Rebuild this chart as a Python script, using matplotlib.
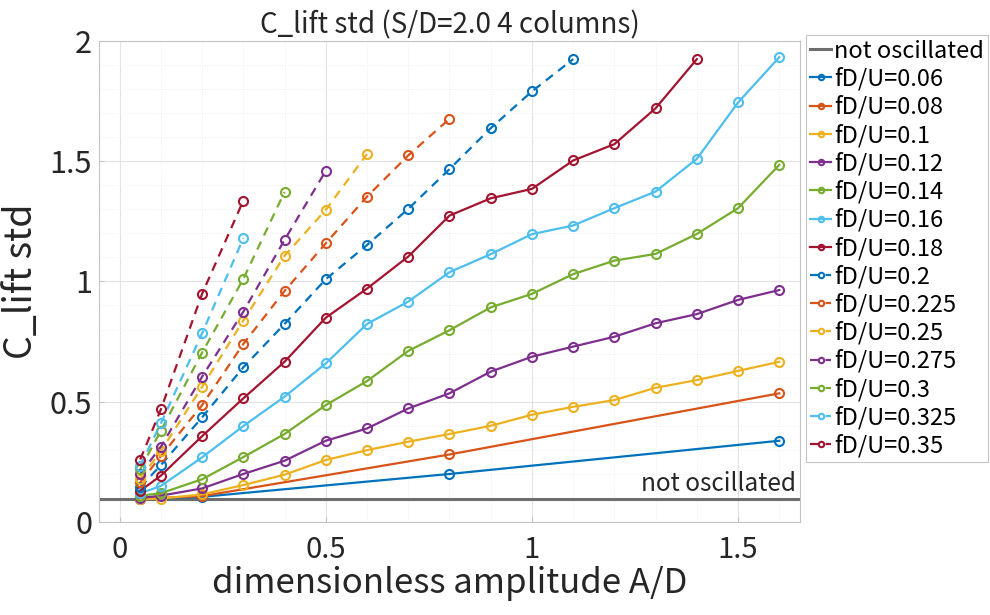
import numpy as np
import matplotlib
matplotlib.use("Agg")
import matplotlib.pyplot as plt
from matplotlib.ticker import MultipleLocator

plt.rcParams['font.family'] = ['Noto Sans CJK JP', 'DejaVu Sans']

# threshold for "not oscillated"
not_osc = 0.095

# amplitudes A/D and C_lift std per frequency fD/U
freqs = ["0.06", "0.08", "0.1", "0.12", "0.14", "0.16", "0.18",
         "0.2", "0.225", "0.25", "0.275", "0.3", "0.325", "0.35"]

x_f006 = [0.05, 0.2, 0.8, 1.6]
y_f006 = [0.095, 0.105, 0.20, 0.338]

x_f008 = [0.05, 0.2, 0.8, 1.6]
y_f008 = [0.097, 0.108, 0.281, 0.535]

x_f010 = [0.05, 0.1, 0.2, 0.3, 0.4, 0.5, 0.6, 0.7, 0.8, 0.9, 1.0, 1.1, 1.2, 1.3, 1.4, 1.5, 1.6]
y_f010 = [0.095, 0.098, 0.115, 0.154, 0.197, 0.258, 0.299, 0.334, 0.366, 0.400,
          0.446, 0.479, 0.507, 0.558, 0.590, 0.628, 0.666]

x_f012 = x_f010
y_f012 = [0.10, 0.11, 0.14, 0.20, 0.255, 0.338, 0.389, 0.472, 0.535, 0.625,
          0.687, 0.729, 0.770, 0.826, 0.864, 0.923, 0.964]

x_f014 = x_f010
y_f014 = [0.11, 0.12, 0.178, 0.27, 0.366, 0.486, 0.586, 0.711, 0.797, 0.892,
          0.948, 1.03, 1.086, 1.114, 1.197, 1.304, 1.484]

x_f016 = x_f010
y_f016 = [0.12, 0.15, 0.269, 0.399, 0.521, 0.659, 0.823, 0.916, 1.038, 1.113,
          1.196, 1.232, 1.304, 1.373, 1.509, 1.743, 1.931]

x_f018 = [0.05, 0.1, 0.2, 0.3, 0.4, 0.5, 0.6, 0.7, 0.8, 0.9, 1.0, 1.1, 1.2, 1.3, 1.4]
y_f018 = [0.13, 0.193, 0.357, 0.514, 0.666, 0.849, 0.970, 1.103, 1.273, 1.345,
          1.384, 1.502, 1.570, 1.719, 1.923]

x_f020 = [0.05, 0.1, 0.2, 0.3, 0.4, 0.5, 0.6, 0.7, 0.8, 0.9, 1.0, 1.1]
y_f020 = [0.145, 0.237, 0.435, 0.643, 0.823, 1.009, 1.151, 1.301, 1.466, 1.636, 1.789, 1.923]

x_f0225 = [0.05, 0.1, 0.2, 0.3, 0.4, 0.5, 0.6, 0.7, 0.8]
y_f0225 = [0.165, 0.274, 0.486, 0.740, 0.96, 1.158, 1.352, 1.523, 1.675]

x_f025 = [0.05, 0.1, 0.2, 0.3, 0.4, 0.5, 0.6]
y_f025 = [0.18, 0.295, 0.562, 0.837, 1.106, 1.297, 1.529]

x_f0275 = [0.05, 0.1, 0.2, 0.3, 0.4, 0.5]
y_f0275 = [0.20, 0.313, 0.604, 0.874, 1.172, 1.459]

x_f030 = [0.05, 0.1, 0.2, 0.3, 0.4]
y_f030 = [0.22, 0.38, 0.704, 1.01, 1.371]

x_f0325 = [0.05, 0.1, 0.2, 0.3]
y_f0325 = [0.235, 0.41, 0.784, 1.179]

x_f035 = [0.05, 0.1, 0.2, 0.3]
y_f035 = [0.26, 0.468, 0.948, 1.335]

xs = [x_f006, x_f008, x_f010, x_f012, x_f014, x_f016, x_f018,
      x_f020, x_f0225, x_f025, x_f0275, x_f030, x_f0325, x_f035]
ys = [y_f006, y_f008, y_f010, y_f012, y_f014, y_f016, y_f018,
      y_f020, y_f0225, y_f025, y_f0275, y_f030, y_f0325, y_f035]

# matlab default color order
colors = ["#0072BD", "#D95319", "#EDB120", "#7E2F8E", "#77AC30", "#4DBEEE", "#A2142F"]

fig = plt.figure(figsize=(9.9, 6.15), dpi=100)
ax = fig.add_axes([0.1, 0.151, 0.708, 0.783])

ax.axhline(not_osc, color="#6e6e6e", lw=2.2, label="not oscillated", zorder=1)
ax.text(1.64, not_osc + 0.01, "not oscillated", ha="right", va="bottom",
        fontsize=17.5, color="#262626")

for i, f in enumerate(freqs):
    ls = "-" if i < 7 else (0, (4, 3))
    ax.plot(xs[i], ys[i], color=colors[i % 7], linestyle=ls, lw=1.6,
            marker="o", markersize=6.5, markerfacecolor="none", markeredgewidth=1.5,
            label="fD/U=" + f, zorder=2)

ax.set_xlim(-0.05, 1.65)
ax.set_ylim(0, 2)
ax.xaxis.set_minor_locator(MultipleLocator(0.1))
ax.yaxis.set_minor_locator(MultipleLocator(0.1))
ax.set_xticks([0, 0.5, 1, 1.5], ["0", "0.5", "1", "1.5"])
ax.set_yticks([0, 0.5, 1, 1.5, 2], ["0", "0.5", "1", "1.5", "2"])
ax.grid(which="major", color="#e3e3e3", lw=0.8)
ax.grid(which="minor", color="#efefef", lw=0.7, linestyle=":")
ax.set_axisbelow(True)
for s in ax.spines.values():
    s.set_color("#c4c4c4")
ax.tick_params(which="both", direction="in", color="#c4c4c4", top=False, right=False)
ax.tick_params(which="minor", length=0)
ax.tick_params(axis="x", labelsize=21, labelcolor="#262626", pad=9)
ax.tick_params(axis="y", labelsize=22, labelcolor="#262626", pad=5)

ax.set_xlabel("dimensionless amplitude A/D", fontsize=25, color="#262626", labelpad=1)
ax.set_ylabel("C_lift std", fontsize=27, color="#262626", labelpad=6)
ax.set_title("C_lift std (S/D=2.0 4 columns)", fontsize=20, color="#262626", pad=3)

leg = ax.legend(loc="upper left", bbox_to_anchor=(1.008, 1.012), borderaxespad=0,
                fontsize=17, handlelength=0.9, handletextpad=0.1, labelspacing=0.2,
                borderpad=0.2, markerscale=0.6, fancybox=False, framealpha=1)
leg.get_frame().set_edgecolor("#c4c4c4")
leg.get_frame().set_linewidth(0.8)

fig.savefig("out.png", dpi=100)
